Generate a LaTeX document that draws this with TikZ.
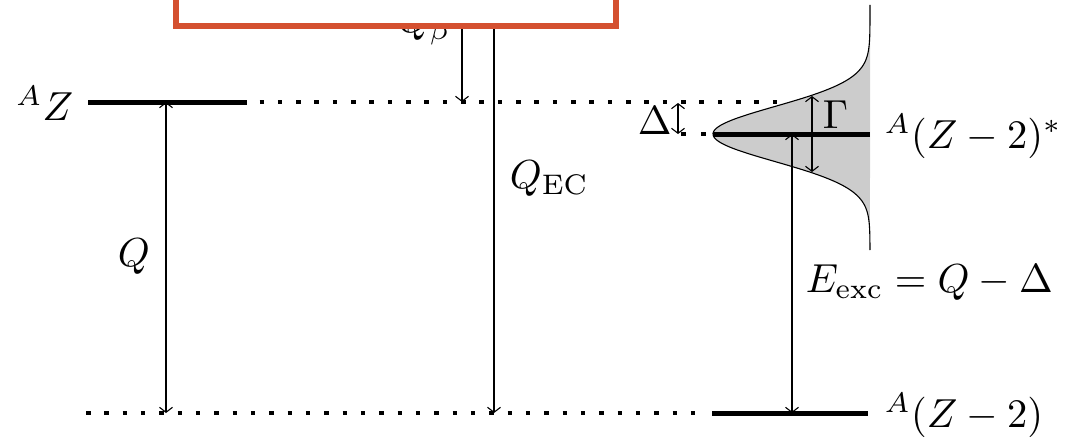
\documentclass[tikz,border=0pt]{standalone}
\usetikzlibrary{arrows.meta}
\definecolor{boxred}{RGB}{212,80,48}
\definecolor{fillgray}{RGB}{204,204,204}
\tikzset{
  lvl/.style={line width=5pt},
  dotlvl/.style={line width=4.5pt, dash pattern=on 4.5pt off 13.83pt},
  arr/.style={line width=1.1pt, -{Straight Barb[length=5pt,width=13pt,line width=1.1pt]}},
  darr/.style={line width=1.1pt, {Straight Barb[length=5pt,width=13pt,line width=1.1pt]}-{Straight Barb[length=5pt,width=13pt,line width=1.1pt]}},
  lab/.style={inner sep=0pt, font=\fontsize{10}{12}\selectfont, scale=4.05},
}
\begin{document}
\begin{tikzpicture}[x=1pt,y=-1pt]
\useasboundingbox (0,0) rectangle (1067,436);
% Gaussian width profile
\fill[fillgray] plot[domain=5:250, samples=150] ({870-157*exp(-0.5*((\x-134)/27.5)^2)}, \x) -- cycle;
\draw[line width=1.1pt] plot[domain=5:250, samples=150] ({870-157*exp(-0.5*((\x-134)/27.5)^2)}, \x);
% levels
\coordinate (t1) at (88,102);
\coordinate (t2) at (247,102);
\coordinate (t3) at (259.5,102);
\coordinate (t4) at (782,102);
\coordinate (e0) at (681,134);
\coordinate (e1) at (707,134);
\coordinate (e2) at (713,134);
\coordinate (e3) at (870,134);
\coordinate (b1) at (86,413);
\coordinate (b2) at (708,413);
\coordinate (b3) at (712,413);
\coordinate (b4) at (868,413);
\draw[lvl] (t1) -- (t2);
\draw[dotlvl] (t3) -- (t4);
\draw[line width=4.5pt, dash pattern=on 4.5pt off 15.5pt] (e0) -- (e1);
\draw[lvl] (e2) -- (e3);
\draw[dotlvl] (b1) -- (b2);
\draw[lvl] (b3) -- (b4);
% arrow end points
\coordinate (qt) at (166,102);
\coordinate (qb) at (166,413);
\coordinate (qbt) at (462,15);
\coordinate (qbb) at (462,102);
\coordinate (qet) at (494,15);
\coordinate (qeb) at (494,413);
\coordinate (dt) at (678,103);
\coordinate (db) at (678,134);
\coordinate (gt) at (812,96);
\coordinate (gb) at (812,172);
\coordinate (xt) at (792,134);
\coordinate (xb) at (792,413);
\draw[darr] (qb) -- (qt);
\draw[arr] (qbt) -- (qbb);
\draw[arr] (qet) -- (qeb);
\draw[darr] (dt) -- (db);
\draw[darr] (gt) -- (gb);
\draw[darr] (xt) -- (xb);
% labels
\node[lab, anchor=base east] (lz) at (74,120) {${}^{A}Z$};
\node[lab, anchor=base west] (lq) at (117,266) {$Q$};
\node[lab, anchor=base west] (lqb) at (397,33) {$Q_\beta$};
\node[lab, anchor=base west] (lqe) at (509,188) {$Q_{\mathrm{EC}}$};
\node[lab, anchor=base west] (ld) at (637,134) {$\Delta$};
\node[lab, anchor=base west] (lg) at (822,128) {$\Gamma$};
\node[lab, anchor=base west] (lex) at (884,148) {${}^{A}(Z-2)^{*}$};
\node[lab, anchor=base west] (lee) at (805,292) {$E_{\mathrm{exc}}=Q-\Delta$};
\node[lab, anchor=base west] (lgr) at (884,427) {${}^{A}(Z-2)$};
% overlay box
\draw[boxred, line width=5.7pt, fill=white] (176,-20) rectangle (616,26);
\end{tikzpicture}
\end{document}
